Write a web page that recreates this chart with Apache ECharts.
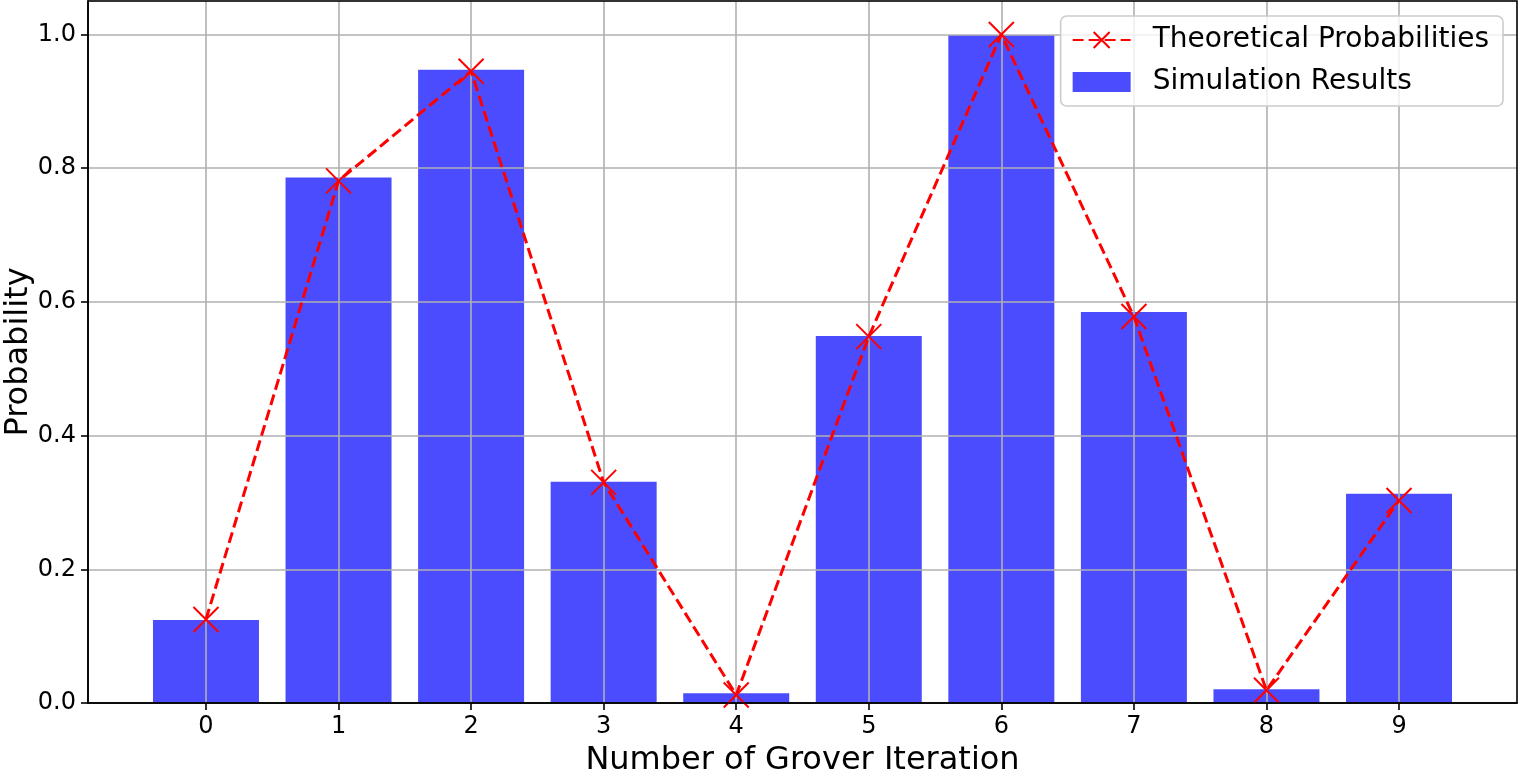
<!DOCTYPE html>
<html>
<head>
<meta charset="utf-8">
<script src="https://cdn.jsdelivr.net/npm/echarts@6/dist/echarts.min.js"></script>
<style>
html,body{margin:0;padding:0;background:#fff;}
#chart{width:1520px;height:772px;}
</style>
</head>
<body>
<div id="chart"></div>
<script>
const iterations = [0, 1, 2, 3, 4, 5, 6, 7, 8, 9];
const simulationResults = [0.124, 0.786, 0.947, 0.331, 0.0145, 0.549, 0.999, 0.585, 0.0205, 0.313];
const theoreticalProbabilities = [0.125, 0.781, 0.945, 0.330, 0.012, 0.548, 1.000, 0.578, 0.019, 0.303];

const FONT = 'DejaVu Sans';
const chart = echarts.init(document.getElementById('chart'), null, {renderer: 'canvas'});

const option = {
  animation: false,
  backgroundColor: '#ffffff',
  textStyle: {fontFamily: FONT},
  grid: {left: 88, right: 3, top: 1, bottom: 69, containLabel: false, outerBoundsMode: 'none',
    show: true, borderColor: '#000', borderWidth: 1.6, backgroundColor: 'transparent', z: 10},
  legend: {
    right: 17, top: 16,
    orient: 'vertical',
    backgroundColor: 'rgba(255,255,255,0.8)',
    borderColor: '#cccccc', borderWidth: 1.6, borderRadius: 6,
    padding: [10, 14, 10, 11],
    itemWidth: 58, itemHeight: 20, itemGap: 14,
    textStyle: {fontFamily: FONT, fontSize: 28, color: '#000', lineHeight: 28, padding: [0, 0, 0, 17]},
    data: [
      {name: 'Theoretical Probabilities'},
      {name: 'Simulation Results', icon: 'rect'}
    ]
  },
  xAxis: {
    type: 'value',
    z: 3,
    min: -0.89, max: 9.89, interval: 1,
    name: 'Number of Grover Iteration',
    nameLocation: 'middle', nameGap: 42,
    nameTextStyle: {fontFamily: FONT, fontSize: 32, color: '#000'},
    axisLine: {show: true, onZero: false, lineStyle: {color: '#000', width: 1.6}},
    axisTick: {show: true, length: 7, lineStyle: {color: '#000', width: 1.6}, customValues: iterations},
    axisLabel: {show: true, fontFamily: FONT, fontSize: 24, color: '#000', margin: 12, customValues: iterations,
      formatter: v => String(Math.round(v))},
    splitLine: {show: true, lineStyle: {color: '#b0b0b0', width: 1.6}}
  },
  yAxis: {
    type: 'value',
    z: 3,
    min: 0, max: 1.05, interval: 0.2,
    name: 'Probability',
    nameLocation: 'middle', nameGap: 53,
    nameMoveOverlap: false,
    nameTextStyle: {fontFamily: FONT, fontSize: 32, color: '#000'},
    axisLine: {show: true, onZero: false, lineStyle: {color: '#000', width: 1.6}},
    axisTick: {show: true, length: 7, lineStyle: {color: '#000', width: 1.6}},
    axisLabel: {show: true, fontFamily: FONT, fontSize: 24, color: '#000', margin: 12, showMaxLabel: false,
      formatter: v => v.toFixed(1)},
    splitLine: {show: true, lineStyle: {color: '#b0b0b0', width: 1.6}}
  },
  series: [
    {
      name: 'Simulation Results',
      type: 'bar',
      z: 1,
      barWidth: 106,
      itemStyle: {color: 'rgba(0,0,255,0.7)'},
      data: iterations.map((x, i) => [x, simulationResults[i]])
    },
    {
      name: 'Theoretical Probabilities',
      type: 'line',
      z: 5,
      symbol: 'path://M0,0L10,10M10,0L0,10',
      symbolSize: 25,
      itemStyle: {color: 'none', borderColor: '#ff0000', borderWidth: 2},
      lineStyle: {color: '#ff0000', width: 3, type: [11, 5]},
      data: iterations.map((x, i) => [x, theoreticalProbabilities[i]])
    }
  ]
};
chart.setOption(option);
</script>
</body>
</html>
